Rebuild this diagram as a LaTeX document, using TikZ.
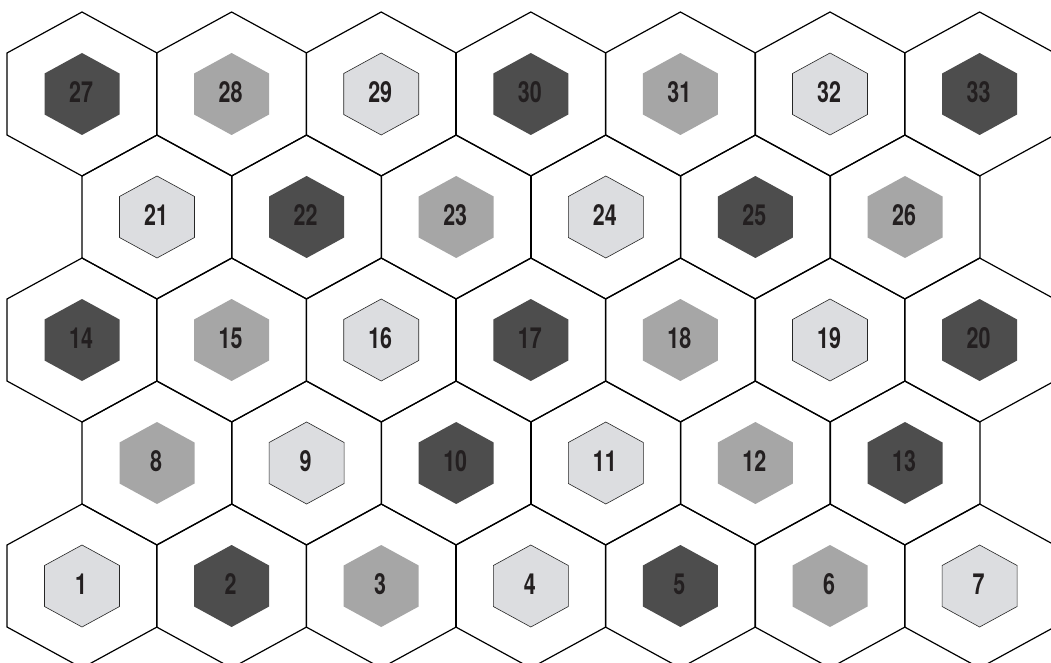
\documentclass[tikz,border=0pt]{standalone}
\usepackage{fontspec}
\newfontfamily\numfont{TeX Gyre Heros}[FakeStretch=0.74]
\definecolor{hexdark}{HTML}{4D4D4D}
\definecolor{hexmid}{HTML}{A6A6A6}
\definecolor{hexlight}{HTML}{DCDDE0}
\definecolor{numink}{HTML}{231F20}
\tikzset{
  pics/hexshape/.style={code={%
    \path[pic actions] (0,-82) -- (75,-41) -- (75,41) -- (0,82) -- (-75,41) -- (-75,-41) -- cycle;}},
  outerhex/.style={draw=black,line width=1.2pt,line join=miter},
  darkhex/.style={fill=hexdark,scale=0.5},
  midhex/.style={fill=hexmid,scale=0.5},
  lighthex/.style={fill=hexlight,draw=black!85,line width=0.6pt,scale=0.5},
  numlabel/.style={text=numink,inner sep=0pt,font=\numfont\bfseries\fontsize{29}{33}\selectfont}
}
\newcommand\myhexrow[3]{%
  \foreach \num/\sty [count=\k from 0] in {#3} {
    \pgfmathsetmacro{\cx}{#2+149.6*\k}
    \pic[outerhex] at (\cx,#1) {hexshape};
    \pic[\sty] at (\cx,#1) {hexshape};
    \node[numlabel] (n\num) at (\cx-1,#1-2) {\num};
  }}
\begin{document}
\begin{tikzpicture}[x=1pt,y=-1pt]
\useasboundingbox (0,0) rectangle (1051,663);
\clip (0,0) rectangle (1051,663);
\fill[white] (0,0) rectangle (1051,663);
\myhexrow{94}{82}{27/darkhex,28/midhex,29/lighthex,30/darkhex,31/midhex,32/lighthex,33/darkhex}
\myhexrow{217}{157}{21/lighthex,22/darkhex,23/midhex,24/lighthex,25/darkhex,26/midhex}
\myhexrow{340}{82}{14/darkhex,15/midhex,16/lighthex,17/darkhex,18/midhex,19/lighthex,20/darkhex}
\myhexrow{463}{157}{8/midhex,9/lighthex,10/darkhex,11/lighthex,12/midhex,13/darkhex}
\myhexrow{586}{82}{1/lighthex,2/darkhex,3/midhex,4/lighthex,5/darkhex,6/midhex,7/lighthex}
\end{tikzpicture}
\end{document}
